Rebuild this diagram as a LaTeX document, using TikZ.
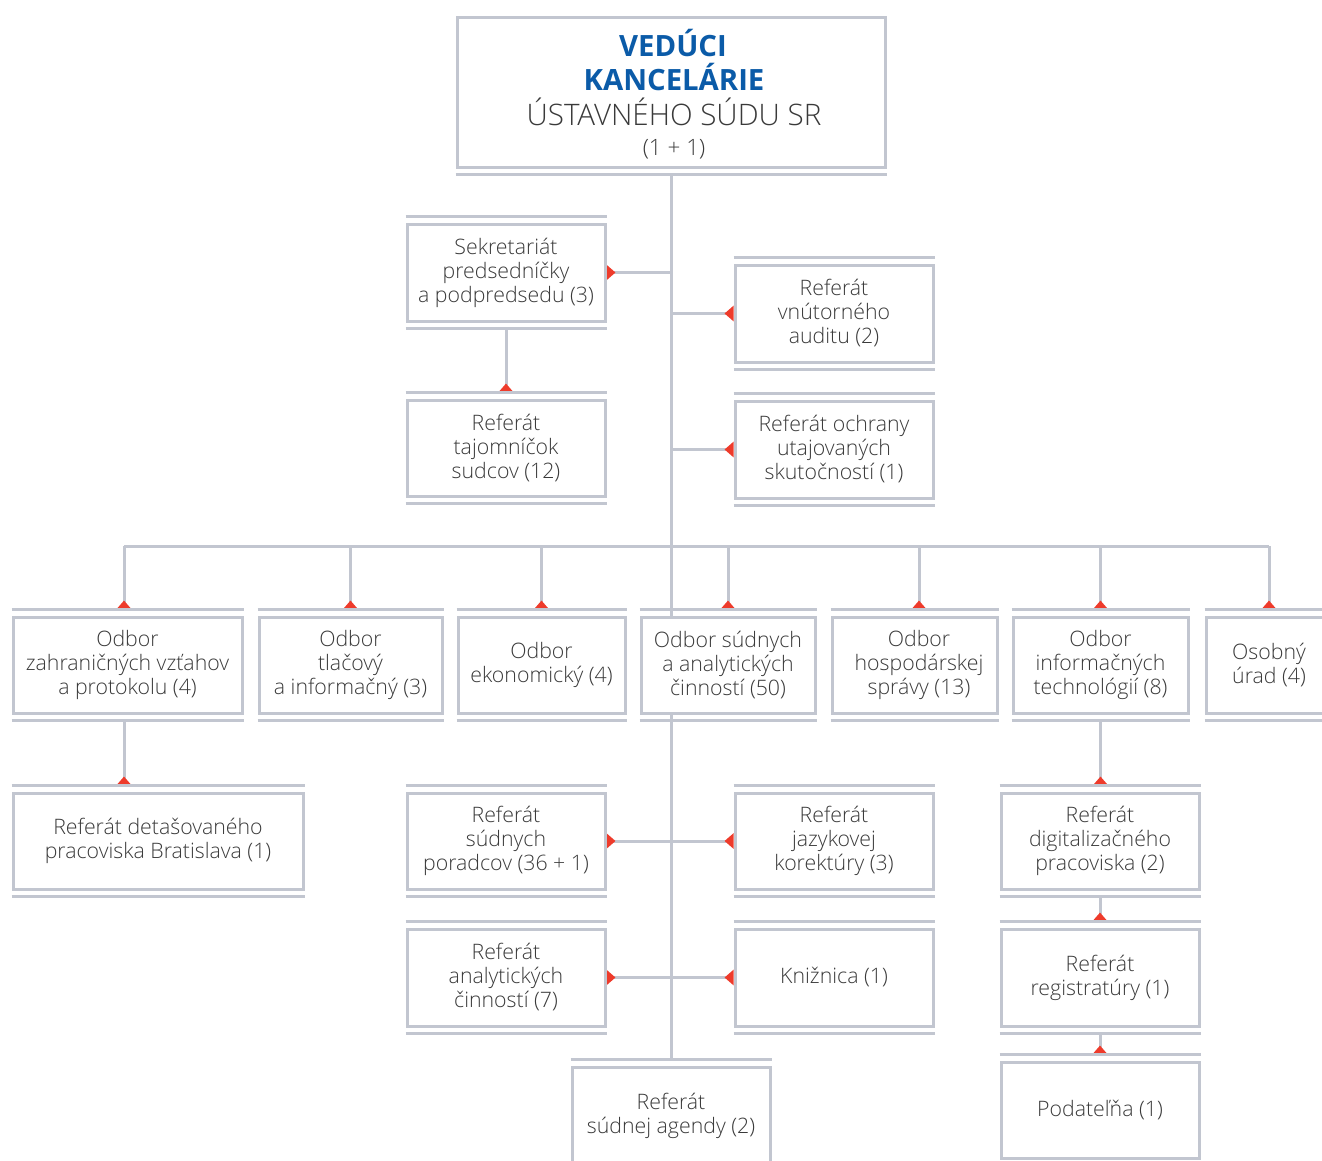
\documentclass[tikz,border=0pt]{standalone}
\usepackage{fontspec}
\setmainfont{Open Sans Light}[BoldFont=Open Sans Bold]
\usetikzlibrary{arrows.meta,calc,backgrounds}
\definecolor{gc}{HTML}{C2C6D0}
\definecolor{rc}{HTML}{EE3B2B}
\definecolor{bc}{HTML}{0B5BA8}
\definecolor{tc}{HTML}{3A3A3A}
\newcommand\mkbox[6]{%
  \pgfmathsetmacro\bxcx{(#2+#4)/2}\pgfmathsetmacro\bxcy{(#3+#5)/2}%
  \pgfmathsetmacro\bxw{#4-#2}\pgfmathsetmacro\bxh{#5-#3}%
  \node[box, minimum width=\bxw pt, minimum height=\bxh pt] (#1) at (\bxcx,\bxcy) {#6};
  \draw[bar] (#1.north west) -- (#1.north east);
  \draw[bar] (#1.south west) -- (#1.south east);
}
\begin{document}
\begin{tikzpicture}[x=1pt,y=-1pt,
  box/.style={draw=gc, fill=white, line width=3pt, inner sep=0pt, outer xsep=1.5pt, outer ysep=7.5pt,
    align=center, text=tc, font=\fontsize{21.3}{24}\selectfont},
  bar/.style={draw=gc, line width=3pt},
  conn/.style={draw=gc, line width=3pt},
  arr/.style={conn, -{Triangle[reversed,length=9pt,width=15pt,color=rc,fill=rc]}},
  ttl/.style={anchor=base, inner sep=0pt}]
\useasboundingbox (0,0) rectangle (1322,1160);
\clip (0,0) rectangle (1322,1160);

% top box
\node[box, minimum width=428pt, minimum height=150pt] (top) at (671,92) {};
\draw[bar] (top.south west) -- (top.south east);
\node[ttl, text=bc, font=\bfseries\fontsize{29.3}{34}\selectfont] (t1) at (673,56) {VEDÚCI};
\node[ttl, text=bc, font=\bfseries\fontsize{29.3}{34}\selectfont] (t2) at (674,90) {KANCELÁRIE};
\node[ttl, text=tc, font=\fontsize{29.6}{34}\selectfont] (t3) at (674,125) {ÚSTAVNÉHO SÚDU SR};
\node[ttl, text=tc, font=\fontsize{22.5}{26}\selectfont] (t4) at (674,155) {(1 + 1)};

\mkbox{sek}{407}{224}{605}{321}{Sekretariát\\predsedníčky\\a podpredsedu (3)}
\mkbox{aud}{735}{265}{933}{362}{Referát\\vnútorného\\auditu (2)}
\mkbox{taj}{407}{400}{605}{496}{Referát\\tajomníčok\\sudcov (12)}
\mkbox{och}{735}{401}{933}{498}{Referát ochrany\\utajovaných\\skutočností (1)}

\mkbox{zahr}{13}{617}{242}{713}{Odbor\\zahraničných vzťahov\\a protokolu (4)}
\mkbox{tlac}{259}{617}{442}{713}{Odbor\\tlačový\\a informačný (3)}
\mkbox{eko}{458}{617}{625}{713}{Odbor\\ekonomický (4)}
\mkbox{sud}{641}{617}{815}{713}{Odbor súdnych\\a analytických\\činností (50)}
\mkbox{hosp}{832}{617}{997}{713}{\hspace*{9pt}Odbor\\\hspace*{9pt}hospodárskej\\\hspace*{9pt}správy (13)}
\mkbox{inf}{1013}{617}{1188}{713}{Odbor\\informačných\\technológií (8)}
\mkbox{osob}{1206}{617}{1332}{713}{Osobný\\úrad (4)}

\mkbox{det}{13}{793}{303}{889}{Referát detašovaného\\pracoviska Bratislava (1)}
\mkbox{por}{407}{793}{605}{889}{Referát\\súdnych\\poradcov (36 + 1)}
\mkbox{jaz}{735}{793}{933}{889}{Referát\\jazykovej\\korektúry (3)}
\mkbox{ana}{407}{929}{605}{1026}{Referát\\analytických\\činností (7)}
\mkbox{kniz}{735}{929}{933}{1026}{Knižnica (1)}
\mkbox{dig}{1001}{793}{1199}{889}{Referát\\digitalizačného\\pracoviska (2)}
\mkbox{reg}{1001}{929}{1199}{1026}{Referát\\registratúry (1)}
\mkbox{pod}{1001}{1062}{1199}{1158}{Podateľňa (1)}
\mkbox{age}{572}{1067}{770}{1164}{Referát\\súdnej agendy (2)}

\begin{scope}[on background layer]
% main spine
\draw[conn] (top.south) -- (top.south |- age.north);
\draw[arr] (sek.east -| top.south) -- (sek.east);
\draw[arr] (aud.west -| top.south) -- (aud.west);
\draw[arr] (och.west -| top.south) -- (och.west);
\draw[arr] (sek.south) -- (sek.south |- taj.north);

% bus
\coordinate (dz) at (124,546);
\coordinate (dh) at (919,546);
\coordinate (dos) at (1269,546);
\draw[conn] (dz) -- (dos);
\draw[arr] (dz) -- (dz |- zahr.north);
\draw[arr] (tlac.north |- dz) -- (tlac.north);
\draw[arr] (eko.north |- dz) -- (eko.north);
\draw[arr] (sud.north |- dz) -- (sud.north);
\draw[arr] (dh) -- (dh |- hosp.north);
\draw[arr] (inf.north |- dz) -- (inf.north);
\draw[arr] (dos) -- (dos |- osob.north);

% second level
\draw[arr] (dz |- zahr.south) -- (dz |- det.north);
\draw[arr] (por.east -| top.south) -- (por.east);
\draw[arr] (jaz.west -| top.south) -- (jaz.west);
\draw[arr] (ana.east -| top.south) -- (ana.east);
\draw[arr] (kniz.west -| top.south) -- (kniz.west);
\draw[arr] (inf.south) -- (inf.south |- dig.north);
\draw[arr] (dig.south) -- (reg.north);
\draw[arr] (reg.south) -- (pod.north);
\end{scope}
\end{tikzpicture}
\end{document}
